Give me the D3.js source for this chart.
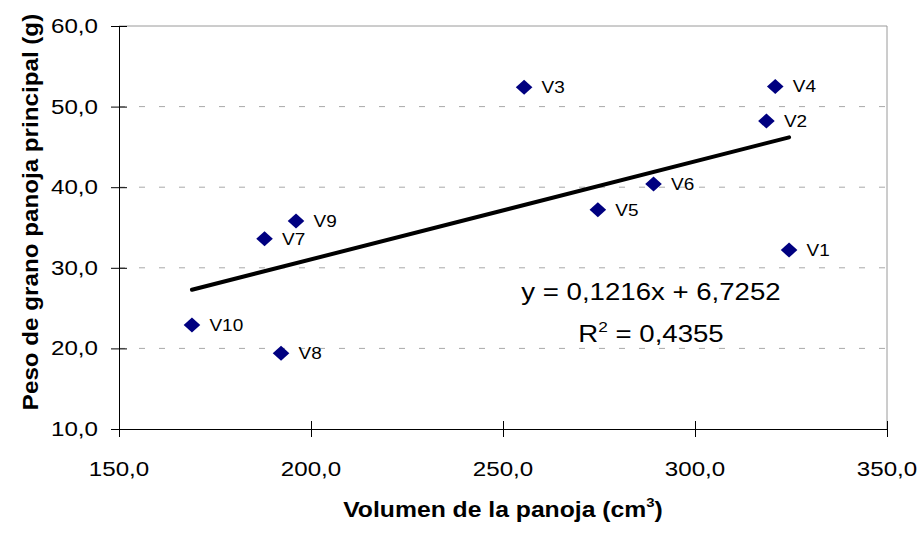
<!DOCTYPE html>
<html>
<head>
<meta charset="utf-8">
<script src="https://cdn.jsdelivr.net/npm/d3@7"></script>
<style>
  html, body { margin: 0; padding: 0; background: #fff; }
  svg { display: block; font-family: Arial, "Liberation Sans", sans-serif; }
</style>
</head>
<body>
<svg id="chart" width="922" height="533"></svg>
<script>
// Varieties: panicle volume (cm3) vs. main panicle grain weight (g)
const varieties = ["V1", "V2", "V3", "V4", "V5", "V6", "V7", "V8", "V9", "V10"];
const volumes   = [324.5, 318.6, 255.5, 320.9, 274.7, 289.2, 187.9, 192.2, 196.1, 169.0];
const weights   = [32.2, 48.2, 52.4, 52.5, 37.2, 40.4, 33.6, 19.4, 35.8, 22.9];

// Linear trend as reported on the chart
const slope = 0.1216;
const intercept = 6.7252;
const rSquared = 0.4355;

const xTicks = [150, 200, 250, 300, 350];
const yTicks = [10, 20, 30, 40, 50, 60];
const xTitle = "Volumen de la panoja (cm";
const yTitle = "Peso de grano panoja principal (g)";

const esLocale = d3.formatLocale({ decimal: ",", thousands: ".", grouping: [3], currency: ["", "€"] });
const fmt1 = esLocale.format(".1f");
const fmt4 = esLocale.format(".4f");

const svg = d3.select("#chart");
const plotL = 119, plotR = 887, plotT = 26, plotB = 429;
const sx = 1.15; // horizontal widening of the glyphs

const x = d3.scaleLinear().domain([150, 350]).range([plotL, plotR]);
const y = d3.scaleLinear().domain([10, 60]).range([plotB, plotT]);

// Grid lines (dashed) and plot frame on top/right
svg.append("g").selectAll("line")
  .data(yTicks.filter(v => v > 10 && v < 60))
  .join("line")
  .attr("x1", plotL).attr("x2", plotR)
  .attr("y1", d => y(d)).attr("y2", d => y(d))
  .attr("stroke", "#a8a8a8").attr("stroke-width", 1)
  .attr("stroke-dasharray", "6,14");

svg.append("line")
  .attr("x1", plotL).attr("x2", plotR).attr("y1", y(60)).attr("y2", y(60))
  .attr("stroke", "#9a9a9a").attr("stroke-width", 1);
svg.append("line")
  .attr("x1", x(350)).attr("x2", x(350)).attr("y1", plotT).attr("y2", plotB)
  .attr("stroke", "#9a9a9a").attr("stroke-width", 1);

// Axes: lines and crossing ticks from d3.axis, labels drawn below
const gy = svg.append("g")
  .attr("transform", `translate(${plotL},0)`)
  .call(d3.axisLeft(y).tickValues(yTicks).tickFormat("").tickSize(8).tickSizeOuter(0));
gy.selectAll(".tick line").attr("x1", 8).attr("stroke", "#000");
gy.select(".domain").attr("stroke", "#000");

const gx = svg.append("g")
  .attr("transform", `translate(0,${plotB})`)
  .call(d3.axisBottom(x).tickValues(xTicks).tickFormat("").tickSize(8).tickSizeOuter(0));
gx.selectAll(".tick line").attr("y1", -8).attr("stroke", "#000");
gx.select(".domain").attr("stroke", "#000");

// Tick labels
svg.append("g").selectAll("g")
  .data(yTicks).join("g")
  .attr("transform", d => `translate(${plotL - 21},${y(d) + 7}) scale(${sx},1)`)
  .append("text")
  .attr("text-anchor", "end").attr("font-size", 21).attr("fill", "#000")
  .text(d => fmt1(d));

svg.append("g").selectAll("g")
  .data(xTicks).join("g")
  .attr("transform", d => `translate(${x(d)},${plotB + 46.5}) scale(${sx},1)`)
  .append("text")
  .attr("text-anchor", "middle").attr("font-size", 21).attr("fill", "#000")
  .text(d => fmt1(d));

// Trend line over the observed range
const xExt = d3.extent(volumes);
svg.append("line")
  .attr("x1", x(xExt[0])).attr("y1", y(slope * xExt[0] + intercept))
  .attr("x2", x(xExt[1])).attr("y2", y(slope * xExt[1] + intercept))
  .attr("stroke", "#000").attr("stroke-width", 4).attr("stroke-linecap", "round");

// Diamond markers and labels
const pts = varieties.map((name, i) => ({ name, vx: volumes[i], vy: weights[i] }));
const hw = 8.3, hh = 7.5;
svg.append("g").selectAll("path")
  .data(pts).join("path")
  .attr("d", d => {
    const cx = x(d.vx), cy = y(d.vy);
    return `M${cx},${cy - hh}L${cx + hw},${cy}L${cx},${cy + hh}L${cx - hw},${cy}Z`;
  })
  .attr("fill", "#000080");

svg.append("g").selectAll("text")
  .data(pts).join("text")
  .attr("transform", d => `translate(${x(d.vx) + 17.5},${y(d.vy) + 6}) scale(${sx},1)`)
  .attr("font-size", 16.5).attr("fill", "#000")
  .text(d => d.name);

// Equation and R²
const eq = svg.append("g").attr("transform", `translate(651,300) scale(${sx},1)`);
eq.append("text").attr("text-anchor", "middle").attr("font-size", 24).attr("fill", "#000")
  .text(`y = ${fmt4(slope)}x + ${fmt4(intercept)}`);
const r2 = svg.append("g").attr("transform", `translate(651,341.5) scale(${sx},1)`);
const r2t = r2.append("text").attr("text-anchor", "middle").attr("font-size", 24).attr("fill", "#000");
r2t.append("tspan").text("R");
r2t.append("tspan").attr("font-size", 15).attr("dy", -10).text("2");
r2t.append("tspan").attr("dy", 10).text(` = ${fmt4(rSquared)}`);

// Axis titles
const xt = svg.append("g").attr("transform", `translate(${(plotL + plotR) / 2},516.5) scale(${sx},1)`);
const xtt = xt.append("text").attr("text-anchor", "middle").attr("font-size", 21.5)
  .attr("font-weight", "bold").attr("fill", "#000");
xtt.append("tspan").text(xTitle);
xtt.append("tspan").attr("font-size", 13).attr("dy", -10).text("3");
xtt.append("tspan").attr("dy", 10).text(")");

svg.append("g").attr("transform", `translate(37.5,212) rotate(-90) scale(1.1,1)`)
  .append("text").attr("text-anchor", "middle").attr("font-size", 22)
  .attr("font-weight", "bold").attr("fill", "#000")
  .text(yTitle);
</script>
</body>
</html>
